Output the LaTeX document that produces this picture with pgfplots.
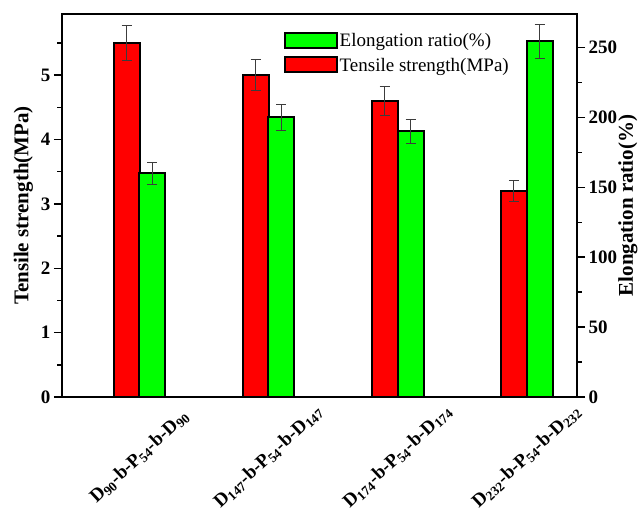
\documentclass[border=0pt]{standalone}
\usepackage{pgfplots}
\pgfplotsset{compat=1.18}
\usepackage{fontspec}
\setmainfont{Liberation Serif}
\definecolor{barred}{RGB}{255,0,0}
\definecolor{bargreen}{RGB}{0,255,0}
\definecolor{errc}{RGB}{60,60,60}
\begin{document}
\begin{tikzpicture}[x=1pt,y=1pt]
\useasboundingbox (0,0) rectangle (640,512);
\pgfplotsset{
  common/.style={
    at={(62pt,115pt)}, anchor=south west,
    scale only axis, width=515pt, height=383pt,
    xmin=0.4, xmax=4.39, ymin=0,
    axis line style={line width=1.8pt},
    major tick length=8pt, minor tick length=4.5pt,
    every tick/.style={line width=1.5pt, black},
    tick align=outside,
    /pgf/number format/assume math mode=true,
    tick label style={font=\fontsize{19}{19}\selectfont\bfseries},
  }
}
\begin{axis}[common,
  ymax=5.95,
  ytick={0,1,2,3,4,5}, minor ytick={0.5,1.5,2.5,3.5,4.5,5.5},
  ytick pos=left,
  xtick={1,2,3,4}, xtick pos=bottom, major x tick style={draw=none},
  xticklabels={D\textsubscript{90}-b-P\textsubscript{54}-b-D\textsubscript{90},
               D\textsubscript{147}-b-P\textsubscript{54}-b-D\textsubscript{147},
               D\textsubscript{174}-b-P\textsubscript{54}-b-D\textsubscript{174},
               D\textsubscript{232}-b-P\textsubscript{54}-b-D\textsubscript{232}},
  x tick label style={anchor=center, yshift=-52pt, rotate=43},
  ylabel={Tensile strength(MPa)},
  every axis y label/.style={at={(axis description cs:-0.075,0.5)}, rotate=90, anchor=center, font=\fontsize{21}{21}\selectfont\bfseries},
]
\addplot[ybar, bar width=26pt, bar shift=0pt, fill=barred, draw=black, line width=2pt,
  error bars/.cd, y dir=both, y explicit,
  error bar style={line width=0.8pt, errc},
  error mark options={rotate=90, mark size=5pt, line width=0.8pt, errc}]
coordinates {(0.9,5.50) +- (0,0.27) (1.9,5.01) +- (0,0.24) (2.9,4.60) +- (0,0.23) (3.9,3.20) +- (0,0.16)};
\end{axis}
\begin{axis}[common,
  ymax=274,
  axis x line=none, axis y line*=right, ytick pos=right, tick align=outside,
  y axis line style={-, line width=1.8pt},
  ytick={0,50,100,150,200,250}, minor ytick={25,75,125,175,225},
  ylabel={Elongation ratio(\%)},
  every axis y label/.style={at={(axis description cs:1.099,0.5)}, rotate=90, anchor=center, font=\fontsize{21}{21}\selectfont\bfseries},
  legend style={at={(axis description cs:0.43,0.955)}, anchor=north west, draw=none, fill=none,
    font=\fontsize{19}{19}\selectfont, row sep=6pt, inner sep=0pt, cells={anchor=west}},
]
\addplot[ybar, bar width=26pt, bar shift=0pt, fill=bargreen, draw=black, line width=2pt,
  legend image code/.code={\draw[fill=bargreen, draw=black, line width=2pt] (0pt,-7pt) rectangle (52pt,8pt);},
  error bars/.cd, y dir=both, y explicit,
  error bar style={line width=0.8pt, errc},
  error mark options={rotate=90, mark size=5pt, line width=0.8pt, errc}]
coordinates {(1.1,160) +- (0,8) (2.1,200) +- (0,9.5) (3.1,190) +- (0,8.5) (4.1,254.5) +- (0,12)};
\addlegendentry{Elongation ratio(\%)}
\addlegendimage{legend image code/.code={\draw[fill=barred, draw=black, line width=2pt] (0pt,-7pt) rectangle (52pt,8pt);}}
\addlegendentry{Tensile strength(MPa)}
\end{axis}
\end{tikzpicture}
\end{document}
